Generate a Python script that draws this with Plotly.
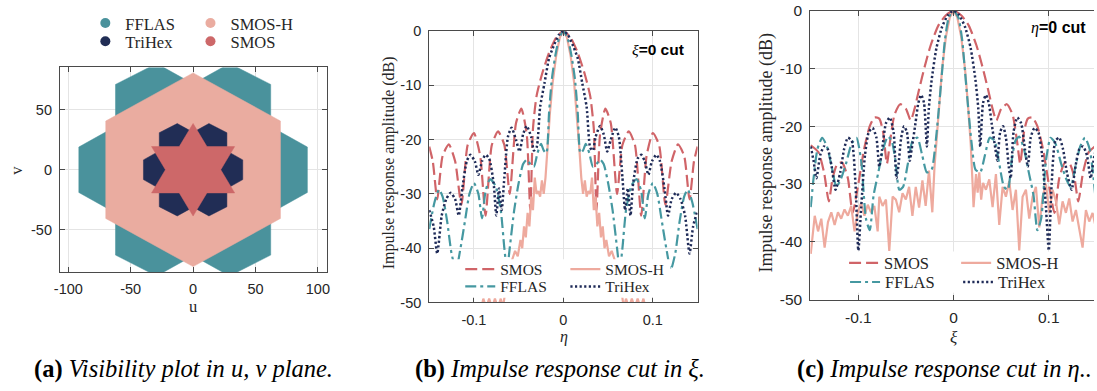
import plotly.graph_objects as go

W, H = 1097, 391

# ---------------- panel (a): visibility regions in the u,v plane ----------------
fflas_u = [91.6, 91.6, 62.2, 62.2, 29.2, 0.0, -29.2, -62.2, -62.2, -91.6, -91.6, -62.2, -62.2, -29.2, 0.0, 29.2, 62.2, 62.2]
fflas_v = [-18.9, 18.9, 35.9, 70.9, 88.3, 71.4, 88.3, 70.9, 35.9, 18.9, -18.9, -35.9, -70.9, -88.3, -71.4, -88.3, -70.9, -35.9]
smosh_u = [0.0, -70.0, -70.0, 0.0, 70.0, 70.0]
smosh_v = [80.5, 40.5, -40.5, -80.5, -40.5, 40.5]
trihex_u = [39.8, 39.8, 27.1, 27.1, 12.7, 0.0, -12.7, -27.1, -27.1, -39.8, -39.8, -27.1, -27.1, -12.7, 0.0, 12.7, 27.1, 27.1]
trihex_v = [-8.2, 8.2, 15.6, 30.8, 38.4, 31.1, 38.4, 30.8, 15.6, 8.2, -8.2, -15.6, -30.8, -38.4, -31.1, -38.4, -30.8, -15.6]
smos_u = [0.0, -11.1, -33.3, -22.2, -33.3, -11.1, 0.0, 11.1, 33.3, 22.2, 33.3, 11.1]
smos_v = [38.5, 19.25, 19.25, 0.0, -19.25, -19.25, -38.5, -19.25, -19.25, 0.0, 19.25, 19.25]

# ---------------- panel (b): xi = 0 cut, x = eta ----------------
b_smos_x = [-0.150, -0.146, -0.141, -0.135, -0.128, -0.121, -0.114, -0.107, -0.100, -0.093, -0.087, -0.080, -0.073, -0.066, -0.060, -0.053, -0.047, -0.041, -0.037, -0.034, -0.030, -0.024, -0.016, -0.008, 0.0,
            0.008, 0.016, 0.024, 0.030, 0.034, 0.037, 0.041, 0.047, 0.053, 0.060, 0.066, 0.073, 0.080, 0.087, 0.093, 0.100, 0.107, 0.114, 0.121, 0.128, 0.135, 0.141, 0.146, 0.150]
b_smos_y = [-21.3, -24, -31, -23, -20.9, -24, -32, -21, -18.8, -23, -34, -21, -18.5, -21, -30, -17, -14.3, -19, -33, -18, -12, -8, -4, -1.2, 0,
            -1.2, -4, -8, -12, -18, -33, -19, -14.3, -17, -30, -21, -18.5, -21, -34, -23, -18.8, -21, -32, -24, -20.9, -23, -31, -24, -21.3]

b_smosh_x = [-0.150, -0.130, -0.110, -0.098, -0.093, -0.0895, -0.0863, -0.083, -0.0798, -0.0765, -0.0733, -0.070, -0.0675, -0.065, -0.061, -0.057, -0.054, -0.051, -0.048, -0.046, -0.044, -0.042, -0.040, -0.038, -0.036, -0.034, -0.032, -0.030, -0.028, -0.026, -0.024, -0.022, -0.020, -0.018, -0.015, -0.012, -0.008, -0.004, 0.0,
             0.004, 0.008, 0.012, 0.015, 0.018, 0.020, 0.022, 0.024, 0.026, 0.028, 0.030, 0.032, 0.034, 0.036, 0.038, 0.040, 0.042, 0.044, 0.046, 0.048, 0.051, 0.054, 0.057, 0.061, 0.065, 0.0675, 0.070, 0.0733, 0.0765, 0.0798, 0.083, 0.0863, 0.0895, 0.093, 0.098, 0.110, 0.130, 0.150]
b_smosh_y = [-58, -56, -57, -55, -52, -49.3, -51, -49.3, -51, -49.3, -51, -49.3, -51, -48, -45, -42, -40.5, -41.5, -38.5, -40, -36, -38, -33.5, -36, -30.5, -33, -27, -30, -29.5, -30.5, -27.5, -30, -27, -22, -15, -9.5, -4.5, -1.2, 0,
             -1.2, -4.5, -9.5, -15, -22, -27, -30, -27.5, -30.5, -29.5, -30, -27, -33, -30.5, -36, -33.5, -38, -36, -40, -38.5, -41.5, -40.5, -42, -45, -48, -51, -49.3, -51, -49.3, -51, -49.3, -51, -49.3, -52, -55, -57, -56, -58]

b_fflas_x = [-0.150, -0.144, -0.139, -0.135, -0.130, -0.125, -0.120, -0.115, -0.110, -0.105, -0.100, -0.095, -0.091, -0.087, -0.082, -0.076, -0.070, -0.066, -0.063, -0.060, -0.055, -0.050, -0.045, -0.041, -0.037, -0.033, -0.029, -0.025, -0.022, -0.019, -0.016, -0.013, -0.009, -0.005, 0.0,
             0.005, 0.009, 0.013, 0.016, 0.019, 0.022, 0.025, 0.029, 0.033, 0.037, 0.041, 0.045, 0.050, 0.055, 0.060, 0.063, 0.066, 0.070, 0.076, 0.082, 0.087, 0.091, 0.095, 0.100, 0.105, 0.110, 0.115, 0.120, 0.125, 0.130, 0.135, 0.139, 0.144, 0.150]
b_fflas_y = [-36.5, -31.5, -29.2, -30.5, -35, -41, -44, -40, -35, -30, -28, -30, -34.5, -29.5, -27.3, -28.5, -33, -40, -44, -40, -33, -28, -24.5, -23.7, -24.5, -25, -22.5, -20.8, -22, -22.5, -15, -9, -4.5, -1.5, 0,
             -1.5, -4.5, -9, -15, -22.5, -22, -20.8, -22.5, -25, -24.5, -23.7, -24.5, -28, -33, -40, -44, -40, -33, -28.5, -27.3, -29.5, -34.5, -30, -28, -30, -35, -40, -44, -41, -35, -30.5, -29.2, -31.5, -36.5]

b_trihex_x = [-0.150, -0.145, -0.141, -0.136, -0.131, -0.126, -0.121, -0.117, -0.113, -0.108, -0.104, -0.099, -0.095, -0.091, -0.087, -0.083, -0.078, -0.075, -0.072, -0.069, -0.066, -0.062, -0.058, -0.053, -0.049, -0.045, -0.041, -0.036, -0.033, -0.030, -0.026, -0.021, -0.016, -0.011, -0.005, 0.0,
              0.005, 0.011, 0.016, 0.021, 0.026, 0.030, 0.033, 0.036, 0.041, 0.045, 0.049, 0.053, 0.058, 0.062, 0.066, 0.069, 0.072, 0.075, 0.078, 0.083, 0.087, 0.091, 0.095, 0.099, 0.104, 0.108, 0.113, 0.117, 0.121, 0.126, 0.131, 0.136, 0.141, 0.145, 0.150]
b_trihex_y = [-33, -36, -41, -34, -31, -29.8, -31, -34, -29, -24, -22.8, -24, -26.5, -24, -22.8, -23.5, -28, -34, -29, -33, -27, -19.5, -17.8, -20, -22.2, -19, -17.5, -19.5, -22, -21.5, -14, -9.5, -5, -2.8, -0.7, 0,
              -0.7, -2.8, -5, -9.5, -14, -21.5, -22, -19.5, -17.5, -19, -22.2, -20, -17.8, -19.5, -27, -33, -29, -34, -28, -23.5, -22.8, -24, -26.5, -24, -22.8, -24, -29, -34, -31, -29.8, -31, -34, -41, -36, -33]

# ---------------- panel (c): eta = 0 cut, x = xi ----------------
c_smos_x = [-0.150, -0.142, -0.136, -0.131, -0.127, -0.122, -0.117, -0.111, -0.106, -0.100, -0.094, -0.088, -0.083, -0.078, -0.074, -0.070, -0.067, -0.062, -0.056, -0.050, -0.045, -0.041, -0.036, -0.030, -0.024, -0.016, -0.008, 0.0,
            0.008, 0.016, 0.024, 0.030, 0.036, 0.041, 0.045, 0.050, 0.056, 0.062, 0.067, 0.070, 0.074, 0.078, 0.083, 0.088, 0.094, 0.100, 0.106, 0.111, 0.117, 0.122, 0.127, 0.131, 0.136, 0.142, 0.150]
c_smos_y = [-23.3, -24.5, -28, -33, -29, -26.5, -26.3, -29, -35, -30, -24, -20, -18.5, -18.7, -21, -26.5, -23, -18, -16.2, -17, -19, -17, -13.5, -9.5, -6, -2.6, -0.8, 0,
            -0.8, -2.6, -6, -9.5, -13.5, -17, -19, -17, -16.2, -18, -23, -26.5, -21, -18.7, -18.5, -20, -24, -30, -35, -29, -26.3, -26.5, -29, -33, -28, -24.5, -23.3]

c_smosh_x = [-0.150, -0.1475, -0.1458, -0.1423, -0.1389, -0.1354, -0.1319, -0.1284, -0.1249, -0.1214, -0.1180, -0.1145, -0.1110, -0.1075, -0.1040, -0.1006, -0.0971, -0.0936, -0.0901, -0.0867, -0.0832, -0.0797, -0.0780, -0.0745, -0.0710, -0.0675, -0.0640, -0.0606, -0.0571, -0.0536, -0.0501, -0.0467, -0.0432, -0.0397, -0.0362, -0.0327, -0.0293, -0.0258, -0.0223, -0.0200, -0.018, -0.015, -0.012, -0.008, -0.004, 0.0,
             0.004, 0.008, 0.012, 0.015, 0.018, 0.020, 0.021, 0.0236, 0.0253, 0.027, 0.029, 0.031, 0.034, 0.0375, 0.041, 0.0445, 0.048, 0.0515, 0.055, 0.0585, 0.062, 0.0655, 0.069, 0.0725, 0.076, 0.0795, 0.083, 0.0865, 0.090, 0.0935, 0.097, 0.1005, 0.104, 0.1075, 0.111, 0.1145, 0.118, 0.1215, 0.125, 0.1285, 0.132, 0.1355, 0.139, 0.1425, 0.146, 0.150]
c_smosh_y = [-42.1, -37.7, -35.5, -38.2, -36, -41, -36.6, -34.9, -37.1, -34.9, -36, -34.4, -35.5, -33.8, -38.2, -34.9, -33.3, -35.5, -33.6, -34.9, -33.8, -38.2, -32.2, -33.8, -32.7, -41.6, -32.2, -32.7, -34.9, -31.6, -32.7, -30.5, -35.5, -30.5, -34.1, -29.4, -33.8, -27.7, -34.9, -27, -23, -16, -10, -4.5, -1.2, 0,
             -1.2, -4.5, -10, -16, -23, -30, -34, -28.3, -31.5, -28, -32.7, -29.8, -31, -29.2, -34, -28.3, -37.1, -30.5, -32.2, -29.5, -34.5, -31, -41.5, -32.2, -31, -36, -32.2, -30.5, -37.5, -32.2, -30, -35, -31, -33, -37, -33, -35, -32.5, -36.5, -34.5, -38, -41, -34.5, -36.5, -35, -38]

c_fflas_x = [-0.150, -0.147, -0.143, -0.138, -0.133, -0.128, -0.123, -0.118, -0.113, -0.107, -0.102, -0.097, -0.092, -0.088, -0.084, -0.079, -0.074, -0.069, -0.065, -0.061, -0.057, -0.053, -0.048, -0.043, -0.038, -0.033, -0.028, -0.023, -0.019, -0.016, -0.012, -0.009, -0.005, 0.0,
             0.005, 0.009, 0.012, 0.016, 0.019, 0.023, 0.028, 0.033, 0.038, 0.043, 0.048, 0.053, 0.057, 0.061, 0.065, 0.069, 0.074, 0.079, 0.084, 0.088, 0.092, 0.097, 0.102, 0.107, 0.113, 0.118, 0.123, 0.128, 0.133, 0.138, 0.143, 0.147, 0.150]
c_fflas_y = [-34, -29, -24, -22, -23.5, -27, -30.5, -29, -26.5, -23, -22, -26, -36, -38, -32, -28, -24, -21.8, -22.5, -26, -31, -30.5, -26.5, -22.5, -22, -25, -28, -27.5, -23, -18, -10.5, -5, -1.2, 0,
             -1.2, -5, -10.5, -18, -23, -27.5, -28, -25, -22, -22.5, -26.5, -30.5, -31, -26, -22.5, -21.8, -24, -28, -32, -38, -36, -26, -22, -23, -26.5, -29, -30.5, -27, -23.5, -22, -24, -29, -34]

c_trihex_x = [-0.150, -0.147, -0.144, -0.140, -0.136, -0.132, -0.128, -0.124, -0.119, -0.115, -0.111, -0.107, -0.103, -0.100, -0.097, -0.093, -0.089, -0.085, -0.081, -0.078, -0.075, -0.071, -0.067, -0.063, -0.060, -0.058, -0.055, -0.052, -0.049, -0.046, -0.044, -0.040, -0.037, -0.034, -0.031, -0.028, -0.026, -0.023, -0.018, -0.012, -0.006, 0.0,
              0.006, 0.012, 0.018, 0.023, 0.026, 0.028, 0.031, 0.034, 0.037, 0.040, 0.044, 0.046, 0.049, 0.052, 0.055, 0.058, 0.060, 0.063, 0.067, 0.071, 0.075, 0.078, 0.081, 0.085, 0.089, 0.093, 0.097, 0.100, 0.103, 0.107, 0.111, 0.115, 0.119, 0.124, 0.128, 0.132, 0.136, 0.140, 0.144, 0.147, 0.150]
c_trihex_y = [-23.5, -26, -29, -25, -23.5, -24, -27, -31, -28, -24, -22, -22.5, -30, -41.5, -34, -25, -21, -20.3, -22, -27, -24, -19.5, -18.5, -21, -29, -27, -22, -20, -21, -26, -24, -19.5, -16, -14.6, -16, -23.5, -17, -12, -6.5, -2.8, -0.8, 0,
              -0.8, -2.8, -6.5, -12, -17, -23.5, -16, -14.6, -16, -19.5, -24, -26, -21, -20, -22, -27, -29, -21, -18.5, -19.5, -24, -27, -22, -20.3, -21, -25, -34, -41.5, -30, -22.5, -22, -24, -28, -31, -27, -24, -23.5, -25, -29, -26, -23.5]

# ---------------- labels ----------------
series_names = ["SMOS", "SMOS-H", "FFLAS", "TriHex"]
db_ticks = [-50, -40, -30, -20, -10, 0]
db_ticktext = ["-50", "-40", "-30", "-20", "-10", "0"]
dir_ticks = [-0.1, 0.0, 0.1]
dir_ticktext = ["-0.1", "0", "0.1"]
uv_ticks_u = [-100, -50, 0, 50, 100]
uv_ticktext_u = ["-100", "-50", "0", "50", "100"]
uv_ticks_v = [-50, 0, 50]
uv_ticktext_v = ["-50", "0", "50"]

# ---------------- styling ----------------
C_TEAL = "#4a929c"
C_NAVY = "#212d55"
C_PINK = "#eaaca0"
C_RED = "#cd6869"
L_RED = "#d06468"
L_PINK = "#eeaa9e"
L_TEAL = "#4598a1"
L_NAVY = "#1f2b58"
SANS = "Liberation Sans"
SERIF = "Liberation Serif"
TXT = "#262626"
FRAME = "#4a4a4a"
GRID = "#e4e4e4"

def px(x):
    return x / W

def py(y):
    return 1 - y / H

fig = go.Figure()

# panel (a) filled regions
for u, v, col in [(fflas_u, fflas_v, C_TEAL), (smosh_u, smosh_v, C_PINK),
                  (trihex_u, trihex_v, C_NAVY), (smos_u, smos_v, C_RED)]:
    fig.add_trace(go.Scatter(x=u + u[:1], y=v + v[:1], mode="lines", fill="toself",
                             fillcolor=col, line=dict(color=col, width=0.5),
                             showlegend=False, hoverinfo="skip", xaxis="x", yaxis="y"))

# panel (a) legend (circle markers)
for name, col, lg in [("FFLAS", C_TEAL, "legend"), ("TriHex", C_NAVY, "legend2"),
                      ("SMOS-H", C_PINK, "legend3"), ("SMOS", C_RED, "legend4")]:
    fig.add_trace(go.Scatter(x=[None], y=[None], mode="markers", name=name,
                             marker=dict(size=10, color=col), legend=lg,
                             xaxis="x", yaxis="y"))

styles = {
    "SMOS": dict(color=L_RED, width=2.2, dash="12px,5px"),
    "SMOS-H": dict(color=L_PINK, width=2.2, dash="solid"),
    "FFLAS": dict(color=L_TEAL, width=2.2, dash="11px,4px,3px,4px"),
    "TriHex": dict(color=L_NAVY, width=2.5, dash="2.2px,2.4px"),
}

b_data = {"SMOS": (b_smos_x, b_smos_y), "SMOS-H": (b_smosh_x, b_smosh_y),
          "FFLAS": (b_fflas_x, b_fflas_y), "TriHex": (b_trihex_x, b_trihex_y)}
c_data = {"SMOS": (c_smos_x, c_smos_y), "SMOS-H": (c_smosh_x, c_smosh_y),
          "FFLAS": (c_fflas_x, c_fflas_y), "TriHex": (c_trihex_x, c_trihex_y)}
b_leg = {"SMOS": "legend5", "FFLAS": "legend6", "SMOS-H": "legend7", "TriHex": "legend8"}
c_leg = {"SMOS": "legend9", "FFLAS": "legend10", "SMOS-H": "legend11", "TriHex": "legend12"}

for name in series_names:
    x, y = b_data[name]
    ln = dict(styles[name])
    if name != "SMOS-H":
        ln.update(shape="spline", smoothing=0.6)
    fig.add_trace(go.Scatter(x=x, y=y, mode="lines", name=name, line=ln,
                             legend=b_leg[name], xaxis="x2", yaxis="y2"))
for name in series_names:
    x, y = c_data[name]
    ln = dict(styles[name])
    if name != "SMOS-H":
        ln.update(shape="spline", smoothing=0.6)
    fig.add_trace(go.Scatter(x=x, y=y, mode="lines", name=name, line=ln,
                             legend=c_leg[name], xaxis="x3", yaxis="y3"))

def axis(domain, rng, tv, tt, mirror="ticks", standoff=4, size=14.5):
    return dict(domain=domain, range=rng, tickvals=tv, ticktext=tt,
                ticks="inside", ticklen=5, tickcolor=FRAME, tickwidth=1,
                showline=True, linecolor=FRAME, linewidth=1, mirror=mirror,
                showgrid=True, gridcolor=GRID, gridwidth=1, zeroline=False,
                tickfont=dict(family=SANS, size=size, color=TXT),
                ticklabelstandoff=standoff, fixedrange=True)

layout = dict(
    width=W, height=H, margin=dict(l=0, r=0, t=0, b=0),
    paper_bgcolor="white", plot_bgcolor="white",
    xaxis=axis([px(54.3), px(324)], [-106.8, 107.6], uv_ticks_u, uv_ticktext_u),
    yaxis=axis([py(275.3), py(62)], [-85, 85], uv_ticks_v, uv_ticktext_v),
    xaxis2=axis([px(426.7), px(697.3)], [-0.15, 0.15], dir_ticks, dir_ticktext),
    yaxis2=axis([py(307), py(24)], [-50, 0], db_ticks, db_ticktext),
    xaxis3=axis([px(811), 1.0], [-0.1504, 0.1475], dir_ticks, dir_ticktext, size=15.5),
    yaxis3=axis([py(304), py(2.7)], [-50, 0], db_ticks, db_ticktext, mirror=False, size=15.5),
)
layout["xaxis"]["anchor"] = "y"
layout["yaxis"]["anchor"] = "x"
layout["xaxis2"]["anchor"] = "y2"
layout["yaxis2"]["anchor"] = "x2"
layout["xaxis3"]["anchor"] = "y3"
layout["yaxis3"]["anchor"] = "x3"

def leg(xpx, ypx, size):
    return dict(x=px(xpx), y=py(ypx), xanchor="left", yanchor="middle",
                bgcolor="rgba(0,0,0,0)", borderwidth=0, tracegroupgap=0,
                font=dict(family=SERIF, size=size, color=TXT))

layout["legend"] = leg(80, 16, 16.5)
layout["legend2"] = leg(80, 35, 16.5)
layout["legend3"] = leg(186, 16, 16.5)
layout["legend4"] = leg(186, 35, 16.5)
layout["legend5"] = leg(458, 272.7, 15.5)
layout["legend6"] = leg(458, 290.7, 15.5)
layout["legend7"] = leg(564, 272.7, 15.5)
layout["legend8"] = leg(564, 290.7, 15.5)
layout["legend9"] = leg(845, 266, 16.5)
layout["legend10"] = leg(846, 286, 16.5)
layout["legend11"] = leg(958, 266, 16.5)
layout["legend12"] = leg(960, 286, 16.5)

layout["shapes"] = [
    dict(type="rect", xref="paper", yref="paper", x0=px(448), x1=px(670), y0=py(302), y1=py(262),
         fillcolor="white", line=dict(width=0), layer="above"),
    dict(type="rect", xref="paper", yref="paper", x0=px(832), x1=px(1062), y0=py(297), y1=py(254),
         fillcolor="white", line=dict(width=0), layer="above"),
]

def ann(text, xp, yp, size, family=SERIF, color=TXT, angle=0):
    return dict(text=text, x=px(xp), y=py(yp), xref="paper", yref="paper",
                xanchor="center", yanchor="middle", showarrow=False, textangle=angle,
                font=dict(family=family, size=size, color=color))

layout["annotations"] = [
    ann("u", 189, 311, 16.5),
    ann("v", 11, 168.7, 16.5, angle=-90),
    ann("<i>η</i>", 562.3, 343, 16),
    ann("<i>ξ</i>", 955.7, 344, 17),
    ann("Impulse response amplitude (dB)", 387, 161, 16, angle=-90),
    ann("Impulse response amplitude (dB)", 767, 151, 18, angle=-90),
    ann("<span style='font-family:Liberation Serif'><i>ξ</i></span><b>=0 cut</b>", 657, 43, 15.5, family=SANS, color="#000000"),
    ann("<span style='font-family:Liberation Serif'><i>η</i></span><b>=0 cut</b>", 1061, 21, 16, family=SANS, color="#000000"),
    ann("<b>(a)</b> <i>Visibility plot in u, v plane.</i>", 179, 376.5, 24.5, color="#000000"),
    ann("<b>(b)</b> <i>Impulse response cut in ξ.</i>", 559, 376.5, 24.5, color="#000000"),
    ann("<b>(c)</b> <i>Impulse response cut in η..</i>", 946, 376.5, 24.5, color="#000000"),
]

fig.update_layout(**layout)
fig.write_html("out.html")
